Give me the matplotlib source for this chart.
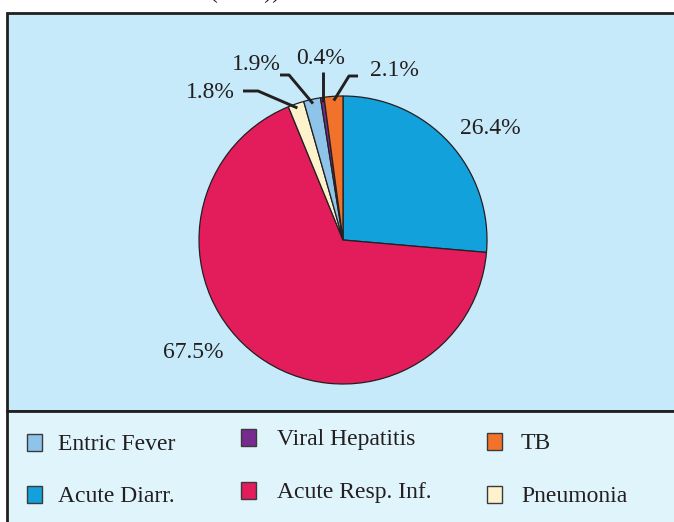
import matplotlib.pyplot as plt
from matplotlib.patches import Rectangle
import numpy as np

plt.rcParams['font.family'] = ['Liberation Serif', 'DejaVu Serif']

# pie data, clockwise from 12 o'clock
labels = ['Acute Diarr.', 'Acute Resp. Inf.', 'Pneumonia', 'Entric Fever', 'Viral Hepatitis', 'TB']
values = [26.4, 67.5, 1.8, 1.9, 0.4, 2.1]
colors = ['#12A1DB', '#E31C5B', '#FCF3CD', '#8EC4E9', '#782B8E', '#F1722A']
pct_text = ['26.4%', '67.5%', '1.8%', '1.9%', '0.4%', '2.1%']

# legend order (3 columns x 2 rows)
legend_order = ['Entric Fever', 'Viral Hepatitis', 'TB', 'Acute Diarr.', 'Acute Resp. Inf.', 'Pneumonia']

W, H = 674, 522
dark = '#231F20'

fig = plt.figure(figsize=(W / 100, H / 100), dpi=100)
ax = fig.add_axes([0, 0, 1, 1])


def py(y):
    # pixel y (from top) -> data y
    return H - y


# panels
ax.add_patch(Rectangle((7, py(411)), W, 411 - 13, facecolor='#C6EAF9',
                       edgecolor=dark, lw=2, zorder=0))
ax.add_patch(Rectangle((7, py(H + 10)), W, H + 10 - 411, facecolor='#E0F4FB',
                       edgecolor=dark, lw=2, zorder=0))

# title, mostly cut off by the top edge as in the source
ax.text(245, py(-1.5), '(2011))', ha='center', va='baseline', fontsize=17, color=dark)

cx, cy, r = 343, py(240), 144
wedges, _ = ax.pie(values, colors=colors, startangle=90, counterclock=False,
                   center=(cx, cy), radius=r,
                   wedgeprops=dict(edgecolor=dark, linewidth=0.9))

# label text centers (pixels) and elbow points for leader lines
label_pos = {
    '26.4%': (490, 128),
    '67.5%': (193, 353),
    '1.8%': (210, 93),
    '1.9%': (256, 64),
    '0.4%': (321, 59),
    '2.1%': (394, 70),
}
leaders = {
    '1.8%': [(243, 91), (258, 91)],
    '1.9%': [(280, 75), (289, 75)],
    '0.4%': [(322, 72)],
    '2.1%': [(358, 76), (349, 76)],
}

for w, t in zip(wedges, pct_text):
    tx, ty = label_pos[t]
    ax.text(tx, py(ty), t, ha='center', va='center', fontsize=17, color=dark)
    if t in leaders:
        mid = np.deg2rad((w.theta1 + w.theta2) / 2)
        ex = cx + 0.97 * r * np.cos(mid)
        ey = cy + 0.97 * r * np.sin(mid)
        pts = leaders[t]
        xs = [p[0] for p in pts] + [ex]
        ys = [py(p[1]) for p in pts] + [ey]
        if t == '0.4%':
            xs = [ex, ex]
        ax.plot(xs, ys, color=dark, lw=2.1, solid_capstyle='butt', zorder=5)

# legend
col_x = [27, 241, 487]
text_x = [58, 277, 521]
row_y = [[442, 437, 441], [494, 490, 494]]
for i, name in enumerate(legend_order):
    row, col = divmod(i, 3)
    x = col_x[col]
    y = row_y[row][col]
    c = colors[labels.index(name)]
    ax.add_patch(Rectangle((x, py(y + 8.5)), 15, 17, facecolor=c,
                           edgecolor='#3a3a3a', lw=1, zorder=3))
    ax.text(text_x[col], py(y + 2.5), name, ha='left', va='center', fontsize=17, color=dark)

ax.set_xlim(0, W)
ax.set_ylim(0, H)
ax.set_aspect('auto')
ax.axis('off')

fig.savefig('out.png', dpi=100)
